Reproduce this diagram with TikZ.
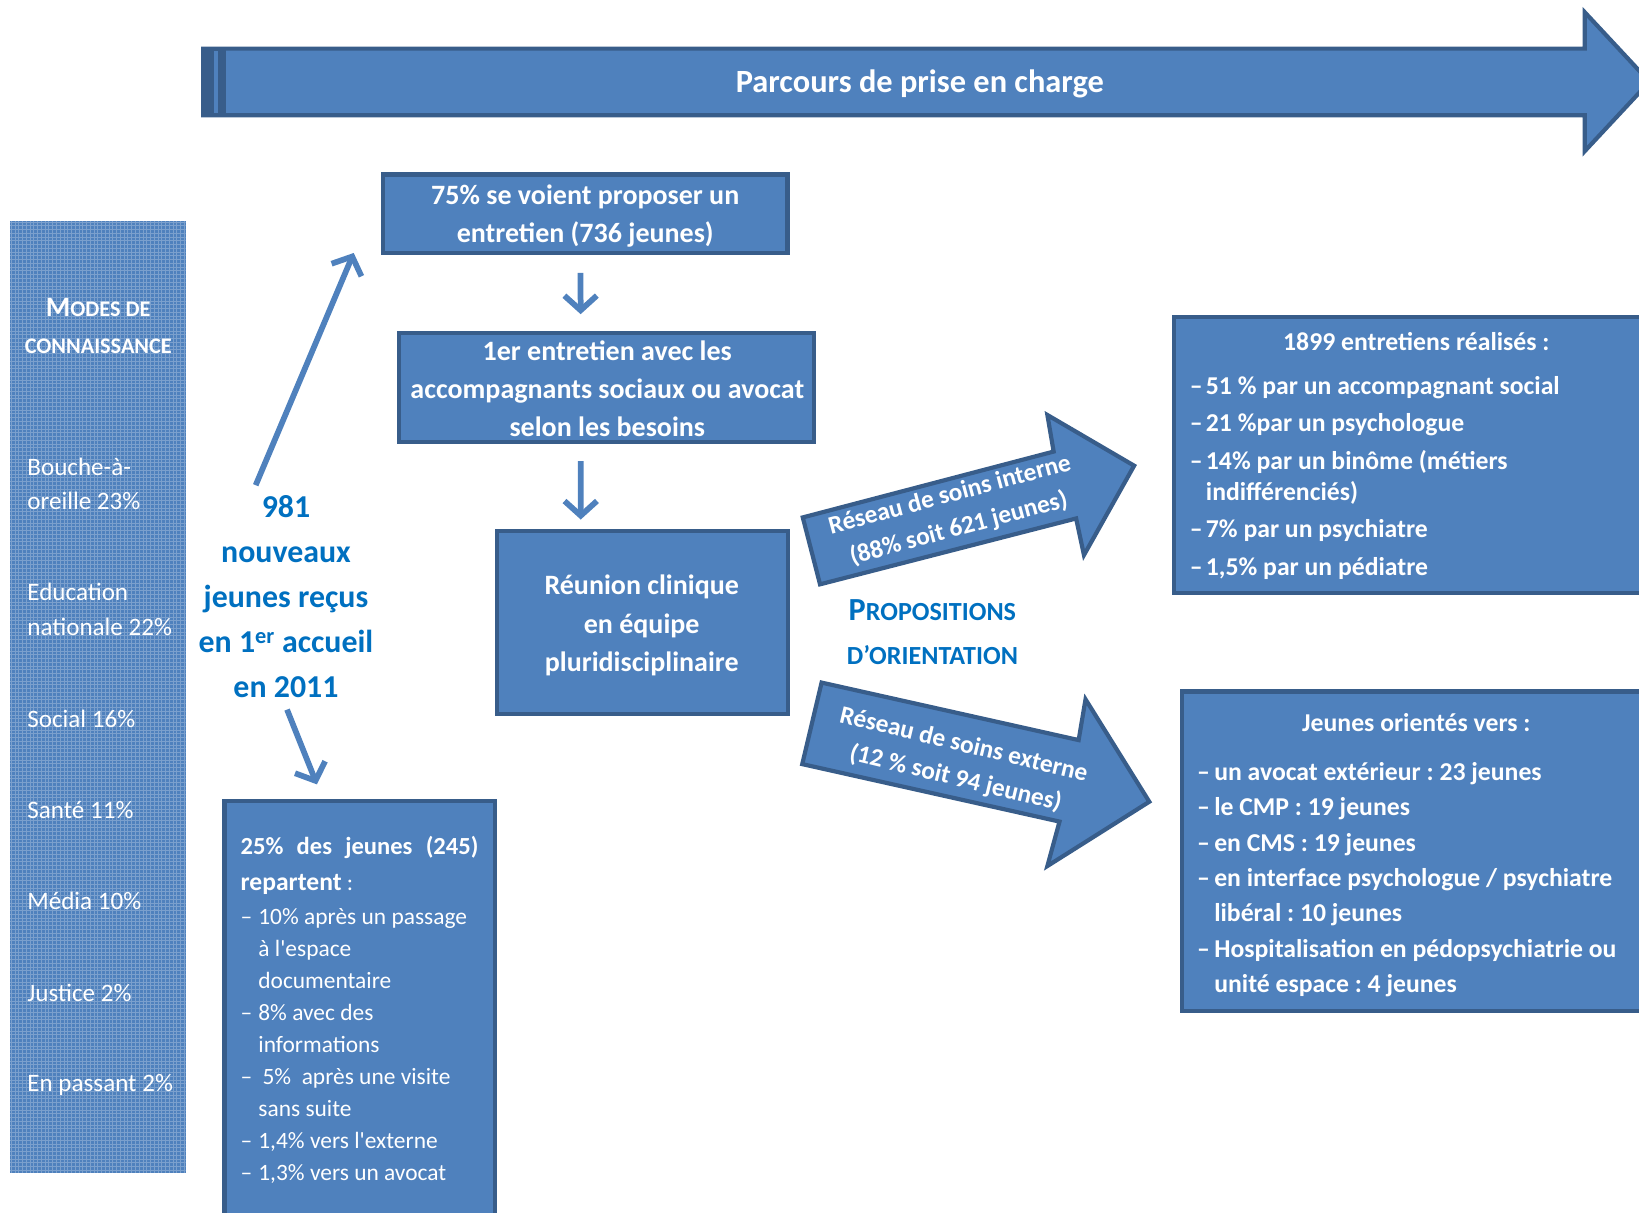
\documentclass[tikz,border=0pt]{standalone}
\usepackage{fontspec}
\setmainfont{Carlito}
\usetikzlibrary{arrows.meta,calc}
\definecolor{boxfill}{HTML}{4F81BD}
\definecolor{boxline}{HTML}{385D8A}
\definecolor{txtblue}{HTML}{0070C0}
\newcommand{\fs}[2]{\fontsize{#1}{#2}\selectfont}
\newcommand{\dashitem}[1]{\makebox[#1][l]{–}}
\frenchspacing
\begin{document}
\begin{tikzpicture}[x=1pt,y=-1pt,
  box/.style={draw=boxline, fill=boxfill, line width=4pt, inner sep=0pt},
  boxtxt/.style={text=white, font=\bfseries\fs{26.8}{36.7}, align=center, inner sep=0pt},
  coltxt/.style={text=white, font=\fs{24}{33.3}, align=left, inner sep=0pt, anchor=west},
  bluetxt/.style={text=txtblue, font=\bfseries, inner sep=0pt},
  thinarr/.style={draw=boxfill, line width=5.5pt, -{Straight Barb[length=14pt,width=31pt]}},
  blockarr/.style={draw=boxline, fill=boxfill, line width=4pt, line join=miter},
  arrtxt/.style={text=white, font=\bfseries\fs{24.3}{33}, align=center, inner sep=0pt},
  listtxt/.style={text=white, font=\bfseries\fs{24.6}{29.5}, align=left, inner sep=0pt, anchor=west}
]
\useasboundingbox (0,0) rectangle (1568,1160);

% top process arrow
\draw[blockarr] (194.3,46.5) -- (1516,46.5) -- (1516,11.6) -- (1578,78.2) -- (1516,144.7) -- (1516,110.3) -- (194.3,110.3) -- cycle;
\fill[boxline] (192.3,44.5) rectangle (216.2,112.3);
\fill[boxfill] (204.7,48.5) rectangle (208.5,107.8);
\node[text=white, font=\bfseries\fs{31}{34}, inner sep=0pt] (title) at (880,80) {Parcours de prise en charge};

% left column
\node[fill=boxfill, inner sep=0pt, minimum width=168pt, minimum height=910.6pt] (modes) at (93.6,666.7) {};
\begin{scope}
\clip (9.6,211.4) rectangle (177.6,1122);
\draw[white, opacity=0.25, line width=0.9pt] (9.6,211.4) grid[step=3.6pt] (177.6,1122);
\end{scope}
\node[text=white, font=\bfseries\fs{21.3}{24}, inner sep=0pt] (modes1) at (94,294) {{\fs{26.8}{28}M}ODES DE};
\node[text=white, font=\bfseries\fs{21.3}{24}, inner sep=0pt] (modes2) at (94,331.6) {CONNAISSANCE};
\node[coltxt] (m1) at (26,463) {Bouche-à-\\oreille 23\%};
\node[coltxt] (m2) at (26,583) {Education\\nationale 22\%};
\node[coltxt] (m3) at (26,688) {Social 16\%};
\node[coltxt] (m4) at (26,775) {Santé 11\%};
\node[coltxt] (m5) at (26,862) {Média 10\%};
\node[coltxt] (m6) at (26,950) {Justice 2\%};
\node[coltxt] (m7) at (26,1038) {En passant 2\%};

% central boxes
\node[box, minimum width=387pt, minimum height=75pt] (b1) at (559.9,204.5) {};
\node[boxtxt] (b1t) at (559.9,206.5) {75\% se voient proposer un\\entretien (736 jeunes)};
\node[box, minimum width=397pt, minimum height=104.5pt] (b2) at (580.5,370.8) {};
\node[boxtxt] (b2t) at (581,372) {1er entretien avec les\\accompagnants sociaux ou avocat\\selon les besoins};
\node[box, minimum width=278.3pt, minimum height=175pt] (b3) at (614.6,595.5) {};
\node[boxtxt] (b3t) at (613.9,598.5) {Réunion clinique\\en équipe\\pluridisciplinaire};

\draw[thinarr] ($(b1.south)+(-4.5,17)$) -- ($(b2.north)+(-25,-16)$);
\draw[thinarr] ($(b2.south)+(-25,16)$) -- ($(b3.north)+(-59,-9)$);

% 981 text
\node[bluetxt, font=\bfseries\fs{30.5}{43}, align=center] (t981) at (273.6,571) {981\\nouveaux\\jeunes reçus\\en 1\textsuperscript{er} accueil\\en 2011};
\draw[thinarr] ($(t981.north)+(-29,-10)$) -- ($(b1.south west)+(-26,-2)$);

% box 4
\node[box, minimum width=259pt, minimum height=411.6pt] (b4) at (344.2,972.2) {};
\draw[thinarr] ($(t981.south)+(1,11)$) -- ($(b4.north)+(-41,-14)$);
\node[text=white, inner sep=0pt, align=left, anchor=west, font=\fs{22.4}{30.6}] (b4t) at (230,966) {%
\makebox[227.5pt][s]{\bfseries\fs{23.5}{30.6}25\%\hfill des\hfill jeunes\hfill (245)}\\[3.8pt]
{\bfseries\fs{24.5}{30.6}repartent} :\\[2pt]
\dashitem{17pt}10\% après un passage\\
\hspace*{17pt}à l\textquotesingle espace\\
\hspace*{17pt}documentaire\\
\dashitem{17pt}8\% avec des\\
\hspace*{17pt}informations\\
\dashitem{17pt}\hspace*{4pt}5\%\ \ après une visite\\
\hspace*{17pt}sans suite\\
\dashitem{17pt}1,4\% vers l\textquotesingle externe\\
\dashitem{17pt}1,3\% vers un avocat};

% right boxes
\node[box, minimum width=475pt, minimum height=263.8pt] (b5) at (1360.5,435.3) {};
\node[text=white, font=\bfseries\fs{24.6}{28}, inner sep=0pt] (b5h) at (1355,326.5) {1899 entretiens réalisés :};
\node[listtxt] (b5t) at (1138,457) {%
\dashitem{15.5pt}51 \% par un accompagnant social\\[6.5pt]
\dashitem{15.5pt}21 \%par un psychologue\\[6.5pt]
\dashitem{15.5pt}14\% par un binôme (métiers\\
\hspace*{15.5pt}indifférenciés)\\[6.5pt]
\dashitem{15.5pt}7\% par un psychiatre\\[6.5pt]
\dashitem{15.5pt}1,5\% par un pédiatre};

\node[box, minimum width=467pt, minimum height=305.9pt] (b6) at (1364.5,814.4) {};
\node[text=white, font=\bfseries\fs{24.6}{28}, inner sep=0pt] (b6h) at (1355,691.5) {Jeunes orientés vers :};
\node[listtxt, font=\bfseries\fs{24.6}{33.8}] (b6t) at (1145,841.5) {%
\dashitem{16.5pt}un avocat extérieur : 23 jeunes\\
\dashitem{16.5pt}le CMP : 19 jeunes\\
\dashitem{16.5pt}en CMS : 19 jeunes\\
\dashitem{16.5pt}en interface psychologue / psychiatre\\
\hspace*{16.5pt}libéral : 10 jeunes\\
\dashitem{16.5pt}Hospitalisation en pédopsychiatrie ou\\
\hspace*{16.5pt}unité espace : 4 jeunes};

% block arrows
\draw[blockarr] (768,495) -- (1008,432) -- (1002,397) -- (1085,445.5) -- (1037,531) -- (1029.5,496) -- (784.5,559) -- cycle;
\node[arrtxt, rotate=15] (ri) at (913,490) {Réseau de soins interne\\(88\% soit 621 jeunes)};
\draw[blockarr] (786,653) -- (1031.9,708) -- (1038.5,669) -- (1099.5,767) -- (1002,828.5) -- (1013.6,786) -- (767.5,731) -- cycle;
\node[arrtxt, rotate=-13.5] (re) at (918,729) {Réseau de soins externe\\(12 \% soit 94 jeunes)};

\node[bluetxt, font=\bfseries\fs{25}{28}] (prop1) at (892,584) {{\fs{30.8}{32}P}ROPOSITIONS};
\node[bluetxt, font=\bfseries\fs{25}{28}] (prop2) at (892,627) {D’ORIENTATION};
\end{tikzpicture}
\end{document}
